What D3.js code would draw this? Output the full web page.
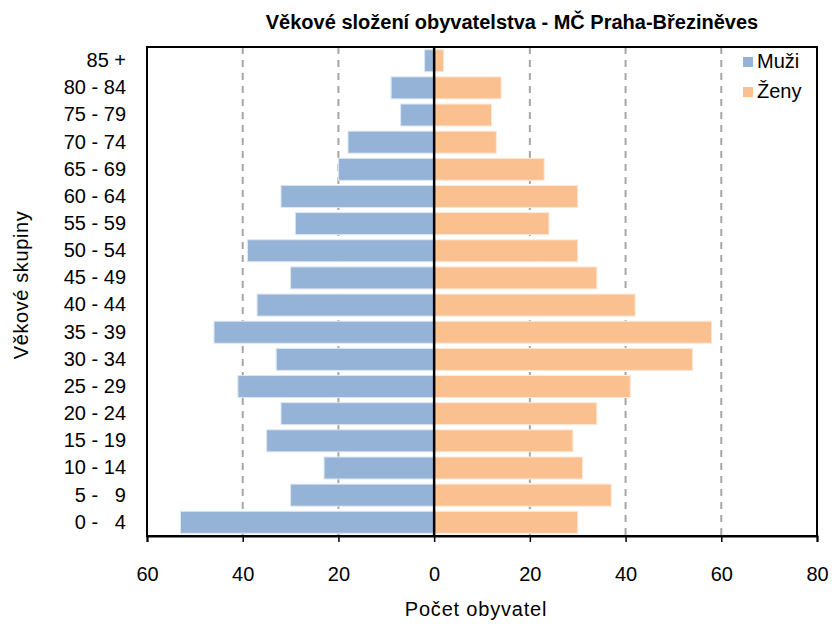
<!DOCTYPE html>
<html>
<head>
<meta charset="utf-8">
<script src="https://cdn.jsdelivr.net/npm/d3@7"></script>
<style>
  body { margin: 0; background: #fff; }
  svg text { font-family: "Liberation Sans", Arial, sans-serif; fill: #000; }
</style>
</head>
<body>
<div id="graph"></div>
<script>
// age groups, top to bottom as drawn
var ageGroups = ['85 +', '80 - 84', '75 - 79', '70 - 74', '65 - 69', '60 - 64', '55 - 59',
  '50 - 54', '45 - 49', '40 - 44', '35 - 39', '30 - 34', '25 - 29', '20 - 24',
  '15 - 19', '10 - 14', '5 -   9', '0 -   4'];

// counts per group (same order)
var muzi = [2, 9, 7, 18, 20, 32, 29, 39, 30, 37, 46, 33, 41, 32, 35, 23, 30, 53];
var zeny = [2, 14, 12, 13, 23, 30, 24, 30, 34, 42, 58, 54, 41, 34, 29, 31, 37, 30];

var xTicks = [-60, -40, -20, 0, 20, 40, 60, 80];
var gridValues = [-40, -20, 20, 40, 60];

var width = 834, height = 624;
var margin = { top: 47, right: 17, bottom: 88, left: 147 };

var svg = d3.select('#graph').append('svg')
  .attr('width', width)
  .attr('height', height);

var x = d3.scaleLinear().domain([-60, 80]).range([margin.left, width - margin.right]);
var y = d3.scaleBand().domain(ageGroups)
  .range([margin.top, height - margin.bottom])
  .paddingInner(0.19)
  .paddingOuter(0.1);

// dashed gridlines
svg.append('g')
  .selectAll('line')
  .data(gridValues)
  .enter().append('line')
  .attr('x1', function(d) { return x(d); })
  .attr('x2', function(d) { return x(d); })
  .attr('y1', margin.top)
  .attr('y2', height - margin.bottom)
  .attr('stroke', '#a6a6a6')
  .attr('stroke-width', 2)
  .attr('stroke-dasharray', '7,6');

// men to the left
svg.append('g')
  .selectAll('rect')
  .data(muzi)
  .enter().append('rect')
  .attr('x', function(d) { return x(-d); })
  .attr('width', function(d) { return x(0) - x(-d); })
  .attr('y', function(d, i) { return y(ageGroups[i]); })
  .attr('height', y.bandwidth())
  .attr('fill', '#95b3d7')
  .attr('stroke', '#dce6f2')
  .attr('stroke-width', 1);

// women to the right
svg.append('g')
  .selectAll('rect')
  .data(zeny)
  .enter().append('rect')
  .attr('x', x(0))
  .attr('width', function(d) { return x(d) - x(0); })
  .attr('y', function(d, i) { return y(ageGroups[i]); })
  .attr('height', y.bandwidth())
  .attr('fill', '#fac090')
  .attr('stroke', '#fde9d9')
  .attr('stroke-width', 1);

// zero line
svg.append('line')
  .attr('x1', x(0)).attr('x2', x(0))
  .attr('y1', margin.top).attr('y2', height - margin.bottom)
  .attr('stroke', '#000')
  .attr('stroke-width', 2.5);

// plot border
svg.append('rect')
  .attr('x', margin.left)
  .attr('y', margin.top)
  .attr('width', width - margin.right - margin.left)
  .attr('height', height - margin.bottom - margin.top)
  .attr('fill', 'none')
  .attr('stroke', '#000')
  .attr('stroke-width', 2);

// x axis
var xAxis = svg.append('g')
  .attr('transform', 'translate(0,' + (height - margin.bottom) + ')')
  .call(d3.axisBottom(x).tickValues(xTicks).tickSize(6).tickPadding(25)
    .tickFormat(function(d) { return Math.abs(d); }));
xAxis.select('.domain').attr('stroke', '#000').attr('stroke-width', 2);
xAxis.selectAll('.tick line').attr('stroke', '#000').attr('stroke-width', 1.5);
xAxis.selectAll('.tick text').style('font-size', '20px');

// y axis labels
var yAxis = svg.append('g')
  .attr('transform', 'translate(' + margin.left + ',0)')
  .call(d3.axisLeft(y).tickSize(0).tickPadding(21));
yAxis.select('.domain').remove();
yAxis.selectAll('.tick text')
  .style('font-size', '20px')
  .style('white-space', 'pre');

// title
svg.append('text')
  .attr('x', 512)
  .attr('y', 29)
  .attr('text-anchor', 'middle')
  .style('font-size', '20px')
  .style('font-weight', 'bold')
  .text('Věkové složení obyvatelstva - MČ Praha-Březiněves');

// axis titles
svg.append('text')
  .attr('x', 476)
  .attr('y', 616)
  .attr('text-anchor', 'middle')
  .style('font-size', '20px')
  .style('letter-spacing', '0.8px')
  .text('Počet obyvatel');

svg.append('text')
  .attr('transform', 'translate(28,285) rotate(-90)')
  .attr('text-anchor', 'middle')
  .style('font-size', '20px')
  .style('letter-spacing', '0.6px')
  .text('Věkové skupiny');

// legend
var legend = [{ name: 'Muži', color: '#95b3d7' }, { name: 'Ženy', color: '#fac090' }];
var lg = svg.append('g')
  .selectAll('g')
  .data(legend)
  .enter().append('g')
  .attr('transform', function(d, i) { return 'translate(743,' + (57 + i * 30) + ')'; });
lg.append('rect')
  .attr('width', 10).attr('height', 10)
  .attr('fill', function(d) { return d.color; });
lg.append('text')
  .attr('x', 14)
  .attr('y', 11)
  .style('font-size', '20px')
  .text(function(d) { return d.name; });
</script>
</body>
</html>
